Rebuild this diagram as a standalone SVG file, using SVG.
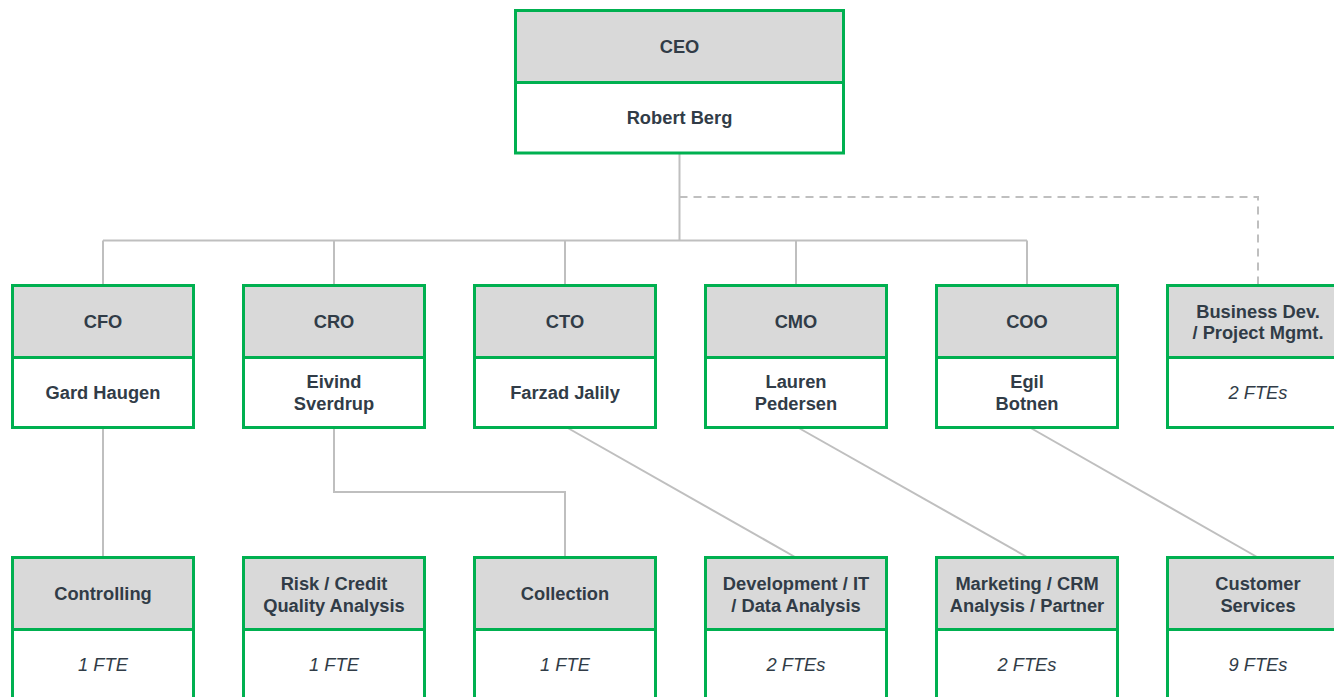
<svg xmlns="http://www.w3.org/2000/svg" width="1334" height="697" viewBox="0 0 1334 697">
  <style>
    .head { fill: #d9d9d9; stroke: #00b050; stroke-width: 3; }
    .body { fill: #ffffff; stroke: #00b050; stroke-width: 3; }
    .t { font-family: "Liberation Sans", Arial, sans-serif; font-size: 18.3px; font-weight: bold; fill: #313c47; text-anchor: middle; }
    .f { font-family: "Liberation Sans", Arial, sans-serif; font-size: 18.3px; font-style: italic; fill: #313c47; text-anchor: middle; }
    .link { fill: none; stroke: #bfbfbf; stroke-width: 2; }
    .dash { fill: none; stroke: #bfbfbf; stroke-width: 2; stroke-dasharray: 8 6; }
  </style>
  <rect width="1334" height="697" fill="#ffffff"/>

  <!-- reporting lines -->
  <g id="connectors">
    <path class="link" d="M679.5 153 V240.5 M103 240.5 H1027 M103 240.5 V285 M334 240.5 V285 M565 240.5 V285 M796 240.5 V285 M1027 240.5 V285"/>
    <path class="dash" d="M679.5 197 H1258 V285"/>
    <path class="link" d="M103 427 V557"/>
    <path class="link" d="M334 427 V492 H565 V557"/>
    <path class="link" d="M566 427 L795 557"/>
    <path class="link" d="M797 427 L1027 557"/>
    <path class="link" d="M1029 427 L1257 557"/>
  </g>

  <!-- top -->
  <g id="ceo">
    <rect class="head" x="515.5" y="10.5" width="328" height="72"/>
    <rect class="body" x="515.5" y="82.5" width="328" height="70.5"/>
    <text class="t" x="679.5" y="52.5">CEO</text>
    <text class="t" x="679.5" y="124">Robert Berg</text>
  </g>

  <!-- executive row -->
  <g id="cfo">
    <rect class="head" x="12.5" y="285.5" width="181" height="72"/>
    <rect class="body" x="12.5" y="357.5" width="181" height="70"/>
    <text class="t" x="103" y="328">CFO</text>
    <text class="t" x="103" y="399">Gard Haugen</text>
  </g>
  <g id="cro">
    <rect class="head" x="243.5" y="285.5" width="181" height="72"/>
    <rect class="body" x="243.5" y="357.5" width="181" height="70"/>
    <text class="t" x="334" y="328">CRO</text>
    <text class="t" x="334" y="388">Eivind</text>
    <text class="t" x="334" y="410">Sverdrup</text>
  </g>
  <g id="cto">
    <rect class="head" x="474.5" y="285.5" width="181" height="72"/>
    <rect class="body" x="474.5" y="357.5" width="181" height="70"/>
    <text class="t" x="565" y="328">CTO</text>
    <text class="t" x="565" y="399">Farzad Jalily</text>
  </g>
  <g id="cmo">
    <rect class="head" x="705.5" y="285.5" width="181" height="72"/>
    <rect class="body" x="705.5" y="357.5" width="181" height="70"/>
    <text class="t" x="796" y="328">CMO</text>
    <text class="t" x="796" y="388">Lauren</text>
    <text class="t" x="796" y="410">Pedersen</text>
  </g>
  <g id="coo">
    <rect class="head" x="936.5" y="285.5" width="181" height="72"/>
    <rect class="body" x="936.5" y="357.5" width="181" height="70"/>
    <text class="t" x="1027" y="328">COO</text>
    <text class="t" x="1027" y="388">Egil</text>
    <text class="t" x="1027" y="410">Botnen</text>
  </g>
  <g id="bizdev">
    <rect class="head" x="1167.5" y="285.5" width="181" height="72"/>
    <rect class="body" x="1167.5" y="357.5" width="181" height="70"/>
    <text class="t" x="1258" y="318">Business Dev.</text>
    <text class="t" x="1258" y="339">/ Project Mgmt.</text>
    <text class="f" x="1258" y="399">2 FTEs</text>
  </g>

  <!-- teams -->
  <g id="controlling">
    <rect class="head" x="12.5" y="557.5" width="181" height="72"/>
    <rect class="body" x="12.5" y="629.5" width="181" height="70"/>
    <text class="t" x="103" y="600">Controlling</text>
    <text class="f" x="103" y="671">1 FTE</text>
  </g>
  <g id="risk">
    <rect class="head" x="243.5" y="557.5" width="181" height="72"/>
    <rect class="body" x="243.5" y="629.5" width="181" height="70"/>
    <text class="t" x="334" y="590">Risk / Credit</text>
    <text class="t" x="334" y="612">Quality Analysis</text>
    <text class="f" x="334" y="671">1 FTE</text>
  </g>
  <g id="collection">
    <rect class="head" x="474.5" y="557.5" width="181" height="72"/>
    <rect class="body" x="474.5" y="629.5" width="181" height="70"/>
    <text class="t" x="565" y="600">Collection</text>
    <text class="f" x="565" y="671">1 FTE</text>
  </g>
  <g id="development">
    <rect class="head" x="705.5" y="557.5" width="181" height="72"/>
    <rect class="body" x="705.5" y="629.5" width="181" height="70"/>
    <text class="t" x="796" y="590">Development / IT</text>
    <text class="t" x="796" y="612">/ Data Analysis</text>
    <text class="f" x="796" y="671">2 FTEs</text>
  </g>
  <g id="marketing">
    <rect class="head" x="936.5" y="557.5" width="181" height="72"/>
    <rect class="body" x="936.5" y="629.5" width="181" height="70"/>
    <text class="t" x="1027" y="590">Marketing / CRM</text>
    <text class="t" x="1027" y="612">Analysis / Partner</text>
    <text class="f" x="1027" y="671">2 FTEs</text>
  </g>
  <g id="customer">
    <rect class="head" x="1167.5" y="557.5" width="181" height="72"/>
    <rect class="body" x="1167.5" y="629.5" width="181" height="70"/>
    <text class="t" x="1258" y="590">Customer</text>
    <text class="t" x="1258" y="612">Services</text>
    <text class="f" x="1258" y="671">9 FTEs</text>
  </g>
</svg>
